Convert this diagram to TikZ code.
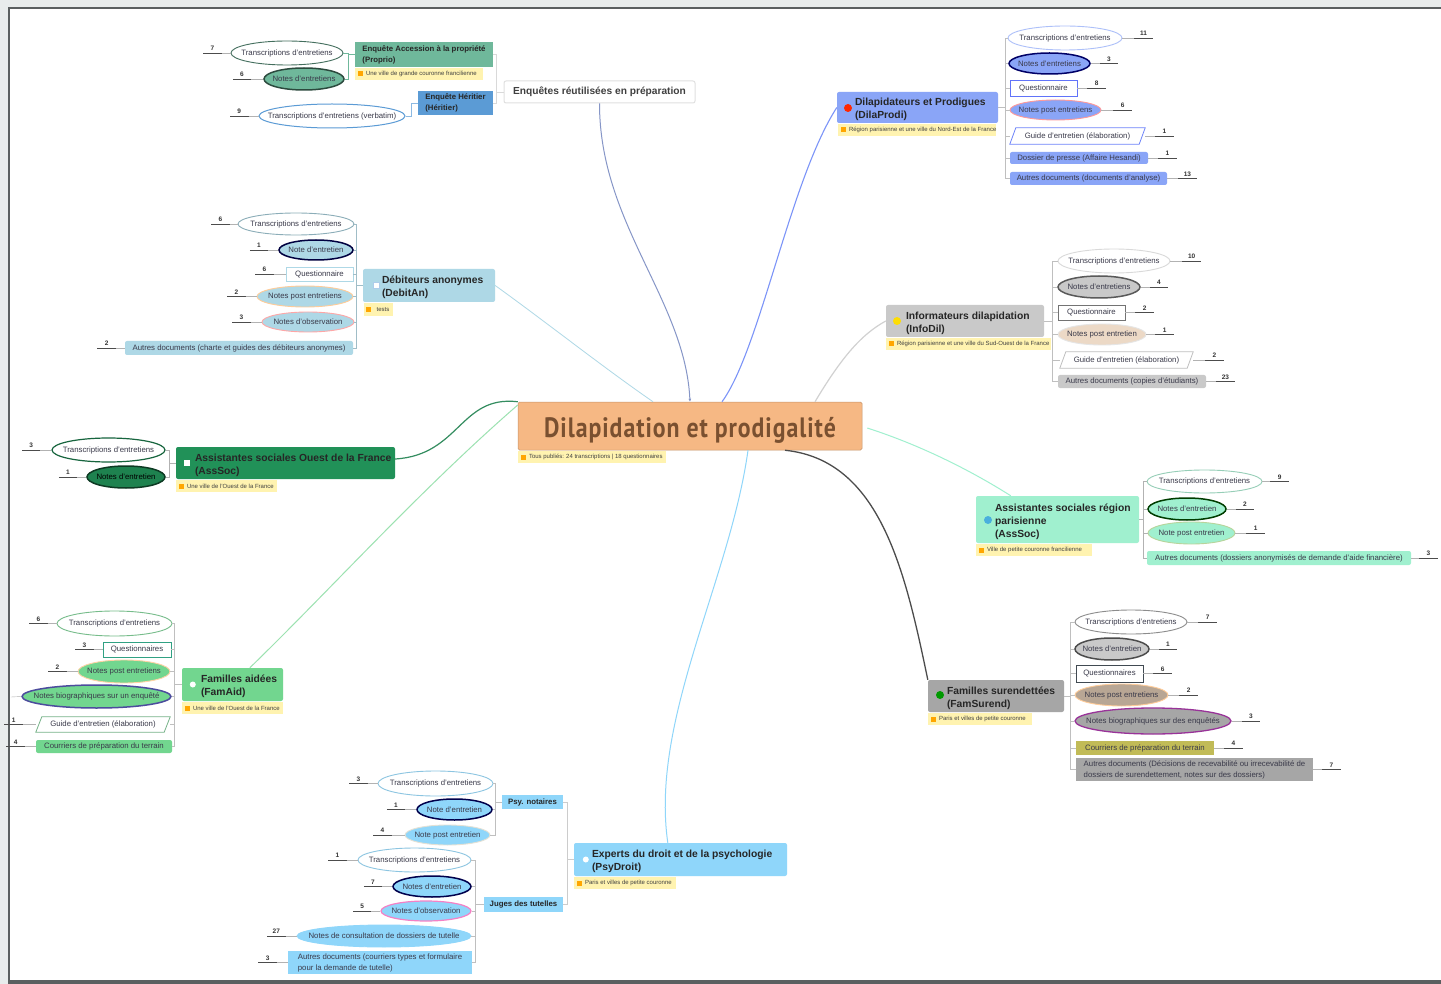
\documentclass[tikz,border=0pt]{standalone}
\usepackage{fontspec}
\usepackage{graphicx}
\setmainfont{Liberation Sans}
\newfontfamily\titlefont[LetterSpace=4]{PT Sans}
\usetikzlibrary{shapes.geometric,arrows.meta}
\definecolor{cprodi}{HTML}{8AA5F7}
\definecolor{cinfo}{HTML}{C9C9C9}
\definecolor{cass}{HTML}{A0F0CF}
\definecolor{csur}{HTML}{A6A6A6}
\definecolor{cpsy}{HTML}{8FD6FA}
\definecolor{cdeb}{HTML}{AED8E6}
\definecolor{couest}{HTML}{219158}
\definecolor{caid}{HTML}{72D68F}
\definecolor{cprop}{HTML}{6FB89B}
\definecolor{cher}{HTML}{5B9BD5}
\definecolor{cnote}{HTML}{FFF3B0}
\definecolor{ctxt}{HTML}{3A3A4A}
\definecolor{ccentral}{HTML}{F6B884}
\definecolor{ctitle}{HTML}{7A5030}
\definecolor{cband}{HTML}{E8ECEC}
\definecolor{cframe}{HTML}{5A5F60}
\newcommand\childfont{\fontsize{7.8}{11}\selectfont}
\newcommand\parfont{\fontsize{10.3}{13}\selectfont\bfseries}
\newcommand\notefont{\fontsize{6}{7}\selectfont}
\tikzset{
  oval/.style={ellipse,draw=#1,line width=.9pt,inner sep=0pt,font=\childfont,text=ctxt},
  darkoval/.style={ellipse,draw=#1,line width=1.5pt,inner sep=0pt,font=\childfont,text=ctxt},
  recto/.style={rectangle,draw=#1,line width=.9pt,inner sep=0pt,font=\childfont,text=ctxt,fill=white},
  pill/.style={rectangle,rounded corners=2pt,inner sep=0pt,font=\childfont,text=ctxt,fill=#1,align=left},
  skewbox/.style={rectangle,inner sep=0pt,font=\childfont,text=ctxt},
  skewline/.style={draw=#1,line width=.8pt},
  parent/.style={rectangle,rounded corners=2pt,inner sep=0pt,fill=#1,text=black!85,font=\parfont},
  subbox/.style={rectangle,inner sep=0pt,fill=#1,text=black!85,font=\fontsize{7.8}{11}\selectfont\bfseries,align=left},
  notebox/.style={rectangle,inner sep=0pt,fill=cnote,text=black!75,font=\notefont},
  noteicon/.style={rectangle,fill=#1,inner sep=0pt,minimum size=5pt},
  picon/.style={circle,fill=#1,inner sep=0pt,minimum size=8pt},
  conn/.style={draw=#1,line width=.7pt},
  cnt/.style={inner sep=0pt,minimum width=18pt,minimum height=9pt,font=\fontsize{6.5}{7}\selectfont\bfseries,text=black!80},
  cntrule/.style={draw=black!70,line width=.6pt},
  cntlink/.style={draw=black!30,line width=.4pt},
  branch/.style={line width=#1},
  branch/.default=1pt,
}
\newcommand\Nd[7]{\node[#1,minimum width={(#5-#3)*1pt},minimum height={(#6-#4)*1pt}] (#2) at ({(#3+#5)/2},{(#4+#6)/2}) {\makebox[0pt]{#7}};}
\newcommand\Pt[8]{\pgfmathsetlengthmacro\boxw{(#5-#3)*1pt}\node[parent=#1,minimum width={(#5-#3)*1pt},minimum height={(#6-#4)*1pt}] (#2) at ({(#3+#5)/2},{(#4+#6)/2}) {\makebox[\boxw][l]{\hspace*{#7pt}\raisebox{-4.5pt}[0pt][0pt]{\begin{tabular}[c]{@{}l@{}}#8\end{tabular}}}};}
\newcommand\Nt[6]{\pgfmathsetlengthmacro\boxw{(#4-#2)*1pt}\node[notebox,minimum width={(#4-#2)*1pt},minimum height={(#5-#3)*1pt}] (#1) at ({(#2+#4)/2},{(#3+#5)/2}) {\makebox[\boxw][l]{\hspace*{11pt}#6}};\node[noteicon=orange!70!yellow,xshift=5.5pt] (i#1) at (#1.west) {};}
\newcommand\NL[3]{\node[cnt,anchor=south east] (n#1) at ([xshift=-#2pt]#1.west) {#3};\draw[cntrule] (n#1.south west) -- (n#1.south east);\draw[cntlink] (n#1.south east) -- (#1.west);}
\newcommand\NR[3]{\node[cnt,anchor=south west] (n#1) at ([xshift=#2pt]#1.east) {#3};\draw[cntrule] (n#1.south west) -- (n#1.south east);\draw[cntlink] (n#1.south west) -- (#1.east);}
\newcommand\Skew[1]{\draw[skewline=#1]}
\begin{document}
\begin{tikzpicture}[x=1pt,y=-1pt]
\useasboundingbox (0,0) rectangle (1441,984);
\fill[white] (0,0) rectangle (1441,984);
\fill[cband] (0,0) rectangle (1441,7);
\fill[cband] (0,7) rectangle (8,984);
\fill[cframe] (8,7) rectangle (1441,9);
\fill[cframe] (8,7) rectangle (10,984);
\fill[cframe] (8,980) rectangle (1441,984);

% central
\node[rectangle,rounded corners=1.5pt,fill=ccentral,draw=ccentral!80!black,line width=.5pt,inner sep=0pt,minimum width=344pt,minimum height=48pt,text=ctitle,font=\titlefont\fontsize{28}{30}\selectfont\bfseries] (central) at (690,426) {\raisebox{-11pt}[0pt][0pt]{\scalebox{.85}[1]{Dilapidation et prodigalité}}};
\Nt{ncentral}{518}{451}{666}{463}{Tous publiés: 24 transcriptions | 18 questionnaires}

% Enquetes
\Nd{rectangle,rounded corners=2pt,draw=black!12,line width=1pt,fill=white,inner sep=0pt,font=\fontsize{10.2}{12}\selectfont\bfseries,text=black!75}{root}{504}{81}{695}{103}{Enquêtes réutilisées en préparation}
\Nd{subbox=cprop}{prop}{355}{42}{493}{67}{\begin{tabular}{@{}l@{}}Enquête Accession à la propriété\\(Proprio)\end{tabular}}
\Nt{nprop}{355}{68}{483}{80}{Une ville de grande couronne francilienne}
\Nd{subbox=cher}{her}{418}{91}{493}{115}{\begin{tabular}{@{}l@{}}Enquête Héritier\\(Héritier)\end{tabular}}
\Nd{oval=cprop!60!black}{a1}{231}{41}{343}{65}{Transcriptions d'entretiens}
\Nd{darkoval=cprop!40!black,fill=cprop}{a2}{264}{68}{344}{90}{Notes d'entretiens}
\Nd{oval=cher,line width=1pt}{a3}{259}{104}{405}{128}{Transcriptions d'entretiens (verbatim)}
\NL{a1}{9}{7}\NL{a2}{12}{6}\NL{a3}{10}{9}
\foreach \c in {prop,her}{\draw[conn=black!15] (root.west) -- ++(-7,0) |- (\c.east);}
\foreach \c in {a1,a2}{\draw[conn=cprop] (prop.west) -- ++(-6,0) |- (\c.east);}
\draw[conn=cher!70] (her.west) -- ++(-6,0) |- (a3.east);

% Debiteurs
\Pt{cdeb}{deb}{363}{269}{495}{302}{19}{Débiteurs anonymes\\(DebitAn)}
\node[rectangle,fill=white,draw=cher!50,inner sep=0pt,minimum size=6pt,xshift=13pt] (ideb) at (deb.west) {};
\Nd{notebox}{ndeb}{364}{303}{393}{316}{\hspace*{9pt}tests}
\node[noteicon=orange!70!yellow,xshift=5pt] (indeb) at (ndeb.west) {};
\Nd{oval=cdeb!80!black}{b1}{238}{213}{354}{235}{Transcriptions d'entretiens}
\Nd{darkoval=black!75!blue,fill=cdeb}{b2}{279}{240}{353}{260}{Note d'entretien}
\Nd{recto=cdeb}{b3}{286}{267}{353}{281}{Questionnaire}
\Nd{oval=orange!40,fill=cdeb}{b4}{257}{286}{353}{307}{Notes post entretiens}
\Nd{oval=red!35,fill=cdeb}{b5}{262}{312}{354}{332}{Notes d'observation}
\Nd{pill=cdeb}{b6}{125}{341}{353}{355}{Autres documents (charte et guides des débiteurs anonymes)}
\NL{b1}{8}{6}\NL{b2}{10}{1}\NL{b3}{12}{6}\NL{b4}{11}{2}\NL{b5}{11}{3}\NL{b6}{9}{2}
\foreach \c in {b1,b2,b3,b4,b5,b6}{\draw[conn=cdeb!70!gray] (deb.west) -- ++(-6,0) |- (\c.east);}

% Ouest
\Pt{couest}{ouest}{176}{447}{395}{479}{19}{Assistantes sociales Ouest de la France\\(AssSoc)}
\node[rectangle,fill=white,inner sep=0pt,minimum size=6pt,xshift=11pt] (iouest) at (ouest.west) {};
\Nt{nouest}{176}{480}{277}{492}{Une ville de l'Ouest de la France}
\Nd{oval=couest!70!black,line width=1.2pt}{c1}{52}{438}{165}{462}{Transcriptions d'entretiens}
\Nd{darkoval=couest!40!black,fill=couest!90!black,text=black}{c2}{87}{466}{165}{488}{Notes d'entretien}
\NL{c1}{11}{3}\NL{c2}{9}{1}
\foreach \c in {c1,c2}{\draw[conn=black!30] (ouest.west) -- ++(-6,0) |- (\c.east);}

% Familles aidees
\Pt{caid}{aid}{182}{668}{283}{701}{19}{Familles aidées\\(FamAid)}
\node[circle,fill=white,inner sep=0pt,minimum size=6pt,xshift=11pt] (iaid) at (aid.west) {};
\Nt{naid}{182}{702}{283}{714}{Une ville de l'Ouest de la France}
\Nd{oval=caid!70!gray}{d1}{57}{611}{172}{636}{Transcriptions d'entretiens}
\Nd{recto=caid!60!cyan!70!black}{d2}{103}{642}{171}{657}{Questionnaires}
\Nd{oval=orange!35,fill=caid}{d3}{78}{660}{170}{683}{Notes post entretiens}
\Nd{darkoval=black!55!blue!70,fill=caid}{d4}{22}{685}{171}{708}{Notes biographiques sur un enquêté}
\Nd{skewbox}{d5}{36}{717}{170}{732}{Guide d'entretien (élaboration)}
\Skew{caid!60!gray} ([xshift=6pt]d5.north west) -- (d5.north east) -- ([xshift=-6pt]d5.south east) -- (d5.south west) -- cycle;
\Nd{pill=caid}{d6}{36}{740}{172}{753}{Courriers de préparation du terrain}
\NL{d1}{9}{6}\NL{d2}{9}{3}\NL{d3}{11}{2}\NL{d5}{13}{1}\NL{d6}{11}{4}
\coordinate (d4free) at (11,697);
\draw[cntlink] (d4free) -- (d4.west);
\foreach \c in {d1,d2,d3,d4,d5,d6}{\draw[conn=black!25] (aid.west) -- ++(-7,0) |- (\c.east);}

% Experts
\Pt{cpsy}{psy}{574}{843}{787}{876}{18}{Experts du droit et de la psychologie\\(PsyDroit)}
\node[circle,fill=white,inner sep=0pt,minimum size=6pt,xshift=12pt] (ipsy) at (psy.west) {};
\Nt{npsy}{574}{877}{676}{889}{Paris et villes de petite couronne}
\Nd{subbox=cpsy}{e}{502}{795}{563}{809}{Psy. notaires}
\Nd{subbox=cpsy}{f}{484}{897}{563}{912}{Juges des tutelles}
\Nd{oval=cpsy!80!gray}{e1}{378}{771}{493}{796}{Transcriptions d'entretiens}
\Nd{darkoval=black!70!blue,fill=cpsy}{e2}{417}{799}{492}{820}{Note d'entretien}
\Nd{oval=cpsy!60!orange!40,fill=cpsy}{e3}{405}{825}{490}{845}{Note post entretien}
\Nd{oval=cpsy!80!gray}{f1}{358}{848}{471}{872}{Transcriptions d'entretiens}
\Nd{darkoval=black!70!blue,fill=cpsy}{f2}{393}{876}{471}{897}{Notes d'entretien}
\Nd{oval=magenta!50,line width=1.2pt,fill=cpsy}{f3}{381}{901}{471}{921}{Notes d'observation}
\Nd{oval=cpsy,fill=cpsy}{f4}{297}{925}{471}{947}{Notes de consultation de dossiers de tutelle}
\Nd{pill=cpsy,rounded corners=0pt}{f5}{288}{951}{472}{974}{\begin{tabular}{@{}l@{}}Autres documents (courriers types et formulaire\\pour la demande de tutelle)\end{tabular}}
\NL{e1}{10}{3}\NL{e2}{11}{1}\NL{e3}{13}{4}\NL{f1}{11}{1}\NL{f2}{10}{7}\NL{f3}{9}{5}\NL{f4}{11}{27}\NL{f5}{11}{3}
\foreach \c in {e,f}{\draw[conn=black!20] (psy.west) -- ++(-6,0) |- (\c.east);}
\foreach \c in {e1,e2,e3}{\draw[conn=black!25] (e.west) -- ++(-6,0) |- (\c.east);}
\foreach \c in {f1,f2,f3,f4,f5}{\draw[conn=black!25] (f.west) -- ++(-8,0) |- (\c.east);}

% Dilapidateurs
\Pt{cprodi}{prodi}{837}{92}{998}{123}{18}{Dilapidateurs et Prodigues\\(DilaProdi)}
\node[picon=red!70!orange] (iprodi) at (848,108) {};
\Nt{nprodi}{838}{124}{996}{136}{Région parisienne et une ville du Nord-Est de la France}
\Nd{oval=cprodi!70!white}{g1}{1008}{26}{1122}{50}{Transcriptions d'entretiens}
\Nd{darkoval=black!60!blue,fill=cprodi}{g2}{1009}{53}{1090}{74}{Notes d'entretiens}
\Nd{recto=cprodi!70!blue}{g3}{1010}{80}{1077}{96}{Questionnaire}
\Nd{oval=red!40,fill=cprodi}{g4}{1010}{100}{1101}{120}{Notes post entretiens}
\Nd{skewbox}{g5}{1010}{128}{1145}{144}{Guide d'entretien (élaboration)}
\Skew{cprodi!80!blue} ([xshift=6pt]g5.north west) -- (g5.north east) -- ([xshift=-6pt]g5.south east) -- (g5.south west) -- cycle;
\Nd{pill=cprodi}{g6}{1010}{152}{1148}{164}{Dossier de presse (Affaire Hesandi)}
\Nd{pill=cprodi}{g7}{1010}{172}{1167}{185}{Autres documents (documents d'analyse)}
\NR{g1}{12}{11}\NR{g2}{9}{3}\NR{g3}{10}{8}\NR{g4}{12}{6}\NR{g5}{10}{1}\NR{g6}{10}{1}\NR{g7}{11}{13}
\foreach \c in {g1,g2,g3,g4,g5,g6,g7}{\draw[conn=black!25] (prodi.east) -- ++(7,0) |- (\c.west);}

% Informateurs
\Pt{cinfo}{info}{886}{305}{1044}{337}{20}{Informateurs dilapidation\\(InfoDil)}
\node[picon=yellow!80!orange] (iinfo) at (897,321) {};
\Nt{ninfo}{886}{338}{1051}{350}{Région parisienne et une ville du Sud-Ouest de la France}
\Nd{oval=black!15}{h1}{1058}{249}{1170}{273}{Transcriptions d'entretiens}
\Nd{darkoval=black!65,fill=cinfo}{h2}{1058}{276}{1140}{298}{Notes d'entretiens}
\Nd{recto=black!55}{h3}{1058}{305}{1125}{320}{Questionnaire}
\Nd{oval=black!10,fill=brown!30!white}{h4}{1058}{324}{1146}{345}{Notes post entretien}
\Nd{skewbox}{h5}{1060}{352}{1193}{368}{Guide d'entretien (élaboration)}
\Skew{black!25} ([xshift=6pt]h5.north west) -- (h5.north east) -- ([xshift=-6pt]h5.south east) -- (h5.south west) -- cycle;
\Nd{pill=cinfo}{h6}{1058}{375}{1206}{388}{Autres documents (copies d'étudiants)}
\NR{h1}{12}{10}\NR{h2}{9}{4}\NR{h3}{10}{2}\NR{h4}{9}{1}\NR{h5}{12}{2}\NR{h6}{10}{23}
\foreach \c in {h1,h2,h3,h4,h5,h6}{\draw[conn=black!25] (info.east) -- ++(8,0) |- (\c.west);}

% Assistantes region parisienne
\Pt{cass}{ass}{976}{496}{1139}{543}{19}{Assistantes sociales région\\parisienne\\(AssSoc)}
\node[picon=cher!80!cyan] (iass) at (988,520) {};
\Nt{nass}{976}{544}{1092}{556}{Ville de petite couronne francilienne}
\Nd{oval=cass!70!gray}{i1}{1147}{470}{1262}{493}{Transcriptions d'entretiens}
\Nd{darkoval=black!60!green!60!black,fill=cass}{i2}{1148}{498}{1226}{520}{Notes d'entretien}
\Nd{oval=orange!25!cass,fill=cass}{i3}{1148}{522}{1235}{544}{Note post entretien}
\Nd{pill=cass}{i4}{1147}{551}{1411}{565}{Autres documents (dossiers anonymisés de demande d'aide financière)}
\NR{i1}{8}{9}\NR{i2}{9}{2}\NR{i3}{11}{1}\NR{i4}{8}{3}
\foreach \c in {i1,i2,i3,i4}{\draw[conn=black!30] (ass.east) -- ++(4,0) |- (\c.west);}

% Familles surendettees
\Pt{csur}{sur}{928}{680}{1064}{712}{19}{Familles surendettées\\(FamSurend)}
\node[picon=green!60!black] (isur) at (940,695) {};
\Nt{nsur}{928}{713}{1032}{725}{Paris et villes de petite couronne}
\Nd{oval=black!45}{j1}{1075}{610}{1187}{634}{Transcriptions d'entretiens}
\Nd{darkoval=black!70,fill=cinfo}{j2}{1075}{638}{1149}{660}{Notes d'entretien}
\Nd{recto=black!55!cyan!50!black}{j3}{1076}{665}{1143}{682}{Questionnaires}
\Nd{oval=orange!40,fill=brown!40!gray!70!white}{j4}{1075}{684}{1168}{706}{Notes post entretiens}
\Nd{oval=violet!80,line width=1.3pt,fill=csur}{j5}{1075}{708}{1231}{734}{Notes biographiques sur des enquêtés}
\Nd{rectangle,inner sep=0pt,font=\childfont,text=ctxt,fill=olive!55!white}{j6}{1076}{741}{1214}{755}{Courriers de préparation du terrain}
\Nd{pill=csur,rounded corners=0pt}{j7}{1076}{758}{1313}{781}{\begin{tabular}{@{}l@{}}Autres documents (Décisions de recevabilité ou irrecevabilité de\\dossiers de surendettement, notes sur des dossiers)\end{tabular}}
\NR{j1}{11}{7}\NR{j2}{9}{1}\NR{j3}{10}{6}\NR{j4}{11}{2}\NR{j5}{10}{3}\NR{j6}{10}{4}\NR{j7}{9}{7}
\foreach \c in {j1,j2,j3,j4,j5,j6,j7}{\draw[conn=black!25] (sur.east) -- ++(6,0) |- (\c.west);}

% main branches
\draw[branch,draw=cprodi!60!gray,-{Latex[length=3pt,width=3pt]}] (root.south west) ++(96,0) .. controls ++(0,120) and (685,300) .. (central.north);
\draw[branch=1.1pt,draw=cprodi!90!blue] ([xshift=32pt]central.north) .. controls (760,350) and (790,180) .. (prodi.west);
\draw[branch=1.2pt,draw=black!18] ([xshift=125pt]central.north) .. controls (840,360) and (860,335) .. (info.west);
\draw[branch=1pt,draw=cass] (central.east) ++(5,2) .. controls (920,445) and (970,470) .. ([xshift=35pt]ass.north west);
\draw[branch=1.3pt,draw=black!70] ([xshift=95pt]central.south) .. controls (880,460) and (905,570) .. (sur.north west);
\draw[branch=1pt,draw=cpsy] ([xshift=58pt]central.south) .. controls (730,580) and (650,720) .. ([xshift=94pt]psy.north west);
\draw[branch=1pt,draw=caid!70!white] ([yshift=21pt]central.west) .. controls (420,490) and (330,590) .. ([xshift=68pt]aid.north west);
\draw[branch=1.2pt,draw=couest!80!gray] ([yshift=4pt]ouest.east) .. controls (460,455) and (460,395) .. (central.north west);
\draw[branch=.8pt,draw=cdeb] (deb.east) .. controls (550,325) and (600,365) .. ([xshift=-37pt]central.north);
\end{tikzpicture}
\end{document}
